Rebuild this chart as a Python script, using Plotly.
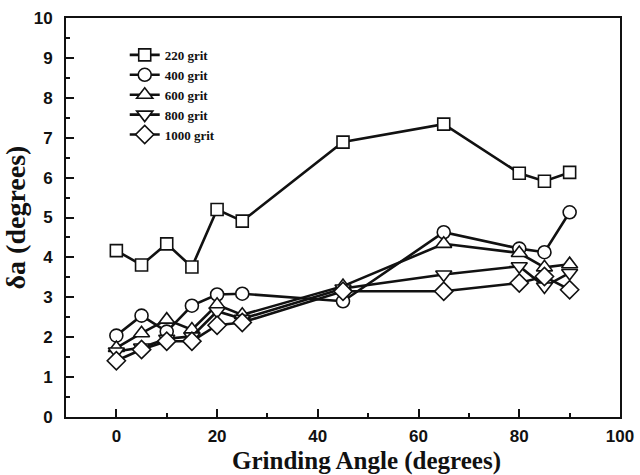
import plotly.graph_objects as go

angles = [0, 5, 10, 15, 20, 25, 45, 65, 80, 85, 90]
grit_220 = [4.17, 3.81, 4.34, 3.76, 5.20, 4.91, 6.89, 7.34, 6.11, 5.91, 6.13]
grit_400 = [2.04, 2.54, 2.14, 2.79, 3.07, 3.09, 2.90, 4.63, 4.22, 4.13, 5.13]
grit_600 = [1.73, 2.10, 2.44, 2.19, 2.81, 2.56, 3.28, 4.34, 4.11, 3.75, 3.83]
grit_800 = [1.64, 1.74, 1.96, 2.02, 2.65, 2.46, 3.22, 3.57, 3.78, 3.27, 3.61]
grit_1000 = [1.41, 1.69, 1.90, 1.90, 2.30, 2.37, 3.15, 3.15, 3.36, 3.52, 3.19]

x_ticks = [0, 20, 40, 60, 80, 100]
y_ticks = [0, 1, 2, 3, 4, 5, 6, 7, 8, 9, 10]

series = [
    ("220 grit", grit_220, "square", 12),
    ("400 grit", grit_400, "circle", 13),
    ("600 grit", grit_600, "triangle-up", 14),
    ("800 grit", grit_800, "triangle-down", 14),
    ("1000 grit", grit_1000, "diamond", 14),
]

fig = go.Figure()
for name, vals, sym, size in series:
    fig.add_trace(go.Scatter(
        x=angles, y=vals, name=name, mode="lines+markers",
        line=dict(color="#111111", width=2.6),
        marker=dict(symbol=sym, size=size, color="white",
                    line=dict(color="#111111", width=1.6)),
    ))

tick_font = dict(family="Liberation Sans", size=17, color="#111111", weight="bold")
axis_common = dict(
    showgrid=False, zeroline=False, showline=True, linecolor="#111111",
    linewidth=2, mirror=True, ticks="inside", tickcolor="#111111",
    tickwidth=1.5, ticklen=8, tickfont=tick_font, automargin=False,
)

fig.update_layout(
    width=640, height=475,
    margin=dict(l=66, r=20, t=18, b=58),
    paper_bgcolor="white", plot_bgcolor="white",
    xaxis=dict(range=[-10, 100], tickvals=x_ticks,
               ticktext=[f"<b>{v}</b>" for v in x_ticks],
               ticklabelstandoff=3,
               minor=dict(dtick=10, tick0=0, ticks="inside", ticklen=4,
                          tickwidth=1.5, tickcolor="#111111"),
               **axis_common),
    yaxis=dict(range=[0, 10], tickvals=y_ticks,
               ticktext=[f"<b>{v}</b>" for v in y_ticks],
               ticklabelstandoff=8,
               minor=dict(dtick=0.5, ticks="inside", ticklen=4,
                          tickwidth=1.5, tickcolor="#111111"),
               title=dict(text="<b>δa (degrees)</b>", standoff=2,
                          font=dict(family="Liberation Serif", size=28,
                                    color="#111111")),
               **axis_common),
    legend=dict(x=0.106, y=0.945, xanchor="left", yanchor="top",
                bgcolor="rgba(0,0,0,0)", tracegroupgap=0,
                font=dict(family="Liberation Serif", size=13,
                          color="#111111", weight="bold")),
    showlegend=True,
    annotations=[dict(text="<b>Grinding Angle (degrees)</b>", xref="paper",
                      yref="paper", x=0.543, y=-0.11, xanchor="center",
                      yanchor="middle", showarrow=False,
                      font=dict(family="Liberation Serif", size=25,
                                color="#111111"))],
)

fig.write_html("out.html")
